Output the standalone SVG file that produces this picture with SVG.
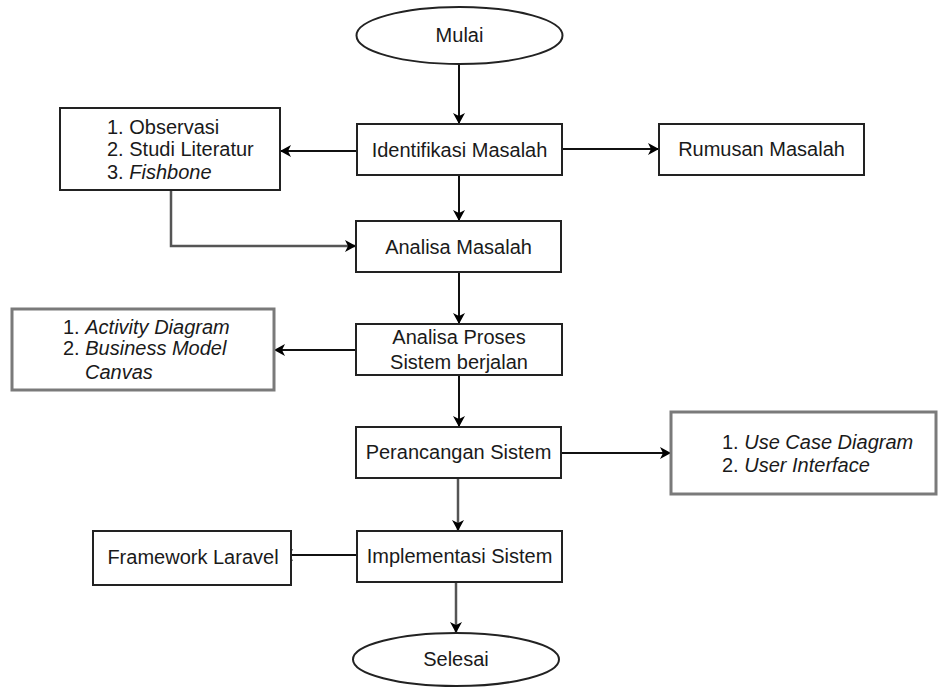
<svg xmlns="http://www.w3.org/2000/svg" width="941" height="688" viewBox="0 0 941 688">
<style>
text{font-family:"Liberation Sans",Arial,sans-serif;font-size:20px;fill:#1a1a1a}
.c{text-anchor:middle}
.i{font-style:italic}
.box{fill:#fff;stroke:#222;stroke-width:2}
.gbox{fill:#fff;stroke:#7a7a7a;stroke-width:3}
.ln{fill:none;stroke:#111;stroke-width:2;marker-end:url(#ah)}
.lg{fill:none;stroke:#555;stroke-width:2.5;marker-end:url(#ah)}
</style>
<defs>
<marker id="ah" markerUnits="userSpaceOnUse" markerWidth="12" markerHeight="12" viewBox="0 0 12 12" refX="11" refY="6" orient="auto">
<path d="M0,0 L11,6 L0,12 L3,6 z" fill="#000"/>
</marker>
</defs>
<rect width="941" height="688" fill="#fff"/>
<g id="connectors">
<path class="ln" d="M459,64 V124"/>
<path class="ln" d="M357,151 H280"/>
<path class="ln" d="M562,149 H659"/>
<path class="ln" d="M459,175 V221"/>
<path class="lg" d="M171,190 V246 H356"/>
<path class="ln" d="M459,272 V324"/>
<path class="ln" d="M356,350 H274"/>
<path class="ln" d="M459,375 V427"/>
<path class="ln" d="M561,453 H671"/>
<path class="lg" d="M458,478 V531"/>
<path class="ln" d="M357,555 H282"/>
<path class="lg" d="M456,582 V633"/>
</g>
<g id="mulai">
<ellipse cx="459.5" cy="35.5" rx="103" ry="28.5" fill="#fff" stroke="#222" stroke-width="2"/>
<text class="c" x="459.5" y="42">Mulai</text>
</g>
<g id="identifikasi">
<rect class="box" x="357" y="124" width="205" height="51"/>
<text class="c" x="459.5" y="157">Identifikasi Masalah</text>
</g>
<g id="metode">
<rect class="box" x="60" y="108" width="220" height="82"/>
<text x="107" y="134">1. Observasi</text>
<text x="107" y="156">2. Studi Literatur</text>
<text x="107" y="179">3. <tspan class="i">Fishbone</tspan></text>
</g>
<g id="rumusan">
<rect class="box" x="659" y="124" width="205" height="51"/>
<text class="c" x="761.5" y="156">Rumusan Masalah</text>
</g>
<g id="analisa-masalah">
<rect class="box" x="356" y="221" width="205" height="51"/>
<text class="c" x="458.5" y="254">Analisa Masalah</text>
</g>
<g id="analisa-proses">
<rect class="box" x="356" y="324" width="206" height="51"/>
<text class="c" x="459" y="344">Analisa Proses</text>
<text class="c" x="459" y="369">Sistem berjalan</text>
</g>
<g id="diagram-analisa">
<rect class="gbox" x="12" y="309" width="262" height="81"/>
<text x="63" y="334">1. <tspan class="i">Activity Diagram</tspan></text>
<text x="63" y="355">2. <tspan class="i">Business Model</tspan></text>
<text class="i" x="85" y="379">Canvas</text>
</g>
<g id="perancangan">
<rect class="box" x="356" y="427" width="205" height="51"/>
<text class="c" x="458.5" y="459">Perancangan Sistem</text>
</g>
<g id="diagram-perancangan">
<rect class="gbox" x="671" y="412" width="265" height="82"/>
<text x="722" y="449">1. <tspan class="i">Use Case Diagram</tspan></text>
<text x="722" y="472">2. <tspan class="i">User Interface</tspan></text>
</g>
<g id="implementasi">
<rect class="box" x="357" y="531" width="205" height="51"/>
<text class="c" x="459.5" y="563">Implementasi Sistem</text>
</g>
<g id="framework">
<rect class="box" x="93" y="531" width="198" height="54"/>
<text class="c" x="193" y="564">Framework Laravel</text>
</g>
<g id="selesai">
<ellipse cx="456" cy="659.5" rx="103" ry="26.5" fill="#fff" stroke="#222" stroke-width="2"/>
<text class="c" x="456" y="666">Selesai</text>
</g>
</svg>
